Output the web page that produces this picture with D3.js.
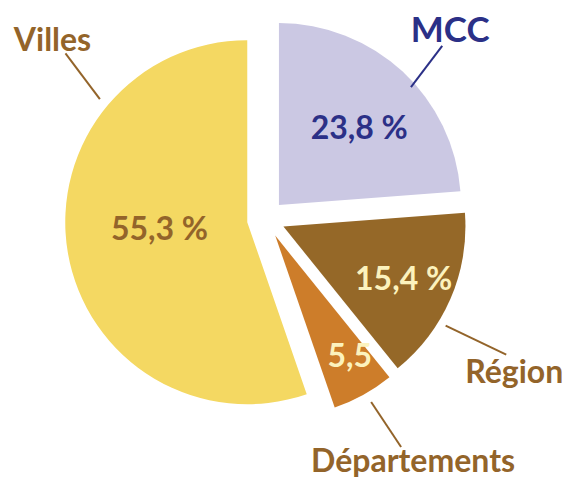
<!DOCTYPE html>
<html>
<head>
<meta charset="utf-8">
<script src="https://cdn.jsdelivr.net/npm/d3@7"></script>
<style>
  body { margin: 0; background: #fff; }
  text { font-family: Lato, "Open Sans", sans-serif; font-weight: bold; }
</style>
</head>
<body>
<div id="pie_1"></div>
<script>
// data
var categories = ["MCC", "Région", "Départements", "Villes"];
var values = [23.8, 15.4, 5.5, 55.3];
var valueLabels = ["23,8 %", "15,4 %", "5,5", "55,3 %"];

function piechart1() {
  var width = 568, height = 479;
  var cx = 266, cy = 219, radius = 182, explode = 19;

  var fill = d3.scaleOrdinal().domain(categories)
    .range(["#cbc8e3", "#956828", "#cd7d2a", "#f4d862"]);
  var labelColor = d3.scaleOrdinal().domain(categories)
    .range(["#2b3087", "#93642a", "#93642a", "#93642a"]);
  var valueColor = d3.scaleOrdinal().domain(categories)
    .range(["#2b3087", "#fcf2bd", "#fcf2bd", "#93642a"]);

  var svg = d3.select("#pie_1")
    .append("svg")
      .attr("width", width)
      .attr("height", height)
    .append("g")
      .attr("transform", "translate(" + cx + "," + cy + ")");

  var pie = d3.pie().sort(null).value(function(d) { return d.value; });
  var data = pie(categories.map(function(c, i) {
    return {name: c, value: values[i], label: valueLabels[i]};
  }));

  var arc = d3.arc().innerRadius(0).outerRadius(radius);

  function mid(d) { return (d.startAngle + d.endAngle) / 2; }
  function polar(a, r) { return [Math.sin(a) * r, -Math.cos(a) * r]; }
  function offset(d) { return polar(mid(d), explode); }

  // slices, each pulled out along its middle angle
  var slice = svg.selectAll("g.slice")
    .data(data)
    .enter()
    .append("g")
      .attr("class", "slice")
      .attr("transform", function(d) { var o = offset(d); return "translate(" + o[0] + "," + o[1] + ")"; });

  slice.append("path")
    .attr("d", arc)
    .attr("fill", function(d) { return fill(d.data.name); });

  var rad = Math.PI / 180;

  // value labels inside the slices
  var inner = [
    {r: 112, da: 3},
    {r: 131, da: 0},
    {r: 141, da: -3},
    {r: 88, da: 5.5}
  ];
  slice.append("text")
    .attr("x", function(d, i) { return polar(mid(d) + inner[i].da * rad, inner[i].r)[0]; })
    .attr("y", function(d, i) { return polar(mid(d) + inner[i].da * rad, inner[i].r)[1]; })
    .attr("dy", "0.36em")
    .attr("text-anchor", "middle")
    .style("font-size", "32px")
    .attr("fill", function(d) { return valueColor(d.data.name); })
    .text(function(d) { return d.data.label; });

  // leader lines and category labels
  var lead = [
    {a0: 5.4, r0: 177, a1: 2.9, r1: 228, dx: 8, dy: -4, anchor: "middle", size: 35},
    {a0: 8.0, r0: 190, a1: 6.5, r1: 257, dx: -41, dy: 28, anchor: "start", size: 32},
    {a0: -1.0, r0: 192, a1: -1.8, r1: 246, dx: 12, dy: 25, anchor: "middle", size: 32},
    {a0: 49.4, r0: 192, a1: 52.4, r1: 248, dx: -13, dy: -2, anchor: "middle", size: 32}
  ];

  slice.append("line")
    .attr("x1", function(d, i) { return polar(mid(d) + lead[i].a0 * rad, lead[i].r0)[0]; })
    .attr("y1", function(d, i) { return polar(mid(d) + lead[i].a0 * rad, lead[i].r0)[1]; })
    .attr("x2", function(d, i) { return polar(mid(d) + lead[i].a1 * rad, lead[i].r1)[0]; })
    .attr("y2", function(d, i) { return polar(mid(d) + lead[i].a1 * rad, lead[i].r1)[1]; })
    .attr("stroke", function(d) { return labelColor(d.data.name); })
    .attr("stroke-width", 2);

  slice.append("text")
    .attr("x", function(d, i) { return polar(mid(d) + lead[i].a1 * rad, lead[i].r1)[0] + lead[i].dx; })
    .attr("y", function(d, i) { return polar(mid(d) + lead[i].a1 * rad, lead[i].r1)[1] + lead[i].dy; })
    .attr("text-anchor", function(d, i) { return lead[i].anchor; })
    .style("font-size", function(d, i) { return lead[i].size + "px"; })
    .attr("fill", function(d) { return labelColor(d.data.name); })
    .text(function(d) { return d.data.name; });
}
piechart1();
</script>
</body>
</html>
